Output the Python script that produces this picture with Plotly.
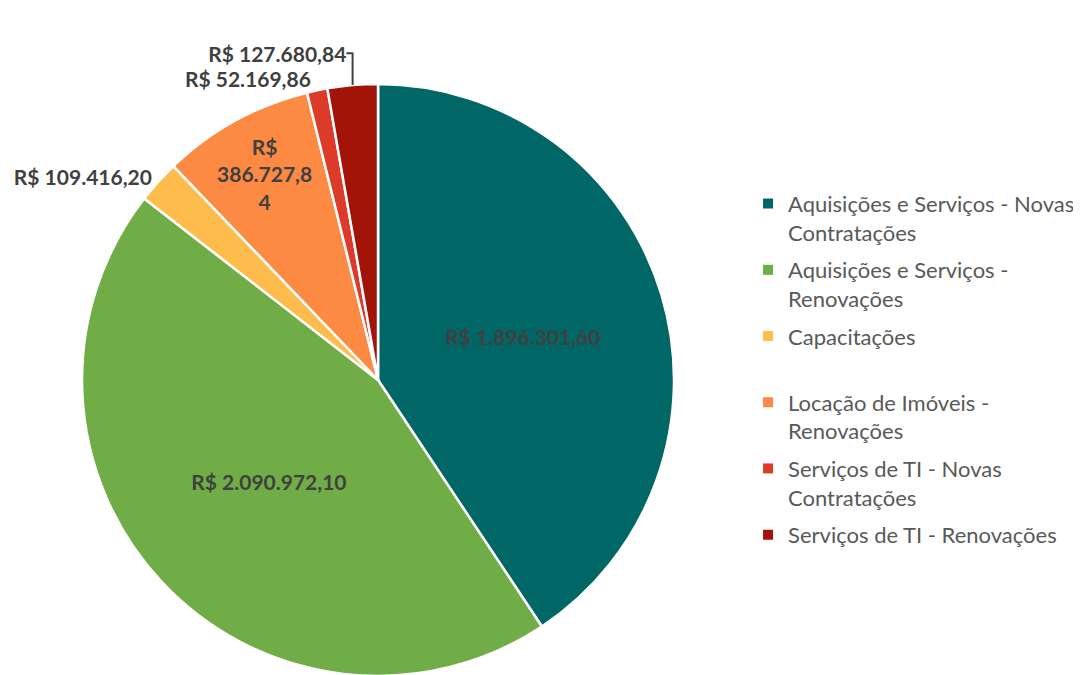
import plotly.graph_objects as go

categories = [
    "Aquisições e Serviços - Novas<br>Contratações",
    "Aquisições e Serviços -<br>Renovações",
    "Capacitações<br> ",
    "Locação de Imóveis -<br>Renovações",
    "Serviços de TI - Novas<br>Contratações",
    "Serviços de TI - Renovações",
]
values = [1896301.60, 2090972.10, 109416.20, 386727.84, 52169.86, 127680.84]
value_labels = [
    "R$ 1.896.301,60",
    "R$ 2.090.972,10",
    "R$ 109.416,20",
    "R$<br>386.727,8<br>4",
    "R$ 52.169,86",
    "R$ 127.680,84",
]
colors = ["#006666", "#70AD47", "#FDBC4B", "#FD8A42", "#DD3B2A", "#A31408"]
positions = ["inside", "inside", "outside", "inside", "outside", "outside"]

fig = go.Figure()
fig.add_trace(
    go.Pie(
        labels=categories,
        values=values,
        text=value_labels,
        textinfo="text",
        textposition=positions,
        insidetextorientation="horizontal",
        sort=False,
        direction="clockwise",
        rotation=0,
        marker=dict(colors=colors, line=dict(color="white", width=2.5)),
        textfont=dict(family="Lato", size=21, color="#404040", weight="bold"),
        domain=dict(x=[0.0685, 0.6161], y=[0.0104, 0.8874]),
        hoverinfo="label+value",
        showlegend=False,
    )
)

# legend entries (one per category, same colours as the slices)
for i, (cat, col) in enumerate(zip(categories, colors)):
    fig.add_trace(
        go.Scatter(
            x=[None],
            y=[None],
            mode="markers",
            name=cat,
            legendgroup=f"g{i}",
            marker=dict(symbol="square", size=10, color=col),
            showlegend=True,
            hoverinfo="skip",
        )
    )

fig.update_layout(
    width=1081,
    height=675,
    margin=dict(l=0, r=0, t=0, b=0, autoexpand=False),
    paper_bgcolor="white",
    plot_bgcolor="white",
    uniformtext=dict(mode="show", minsize=21),
    xaxis=dict(visible=False),
    yaxis=dict(visible=False),
    legend=dict(
        x=0.6846,
        y=0.741,
        xanchor="left",
        yanchor="top",
        valign="top",
        font=dict(family="Lato", size=22, color="#595959"),
        itemwidth=30,
        tracegroupgap=6,
    ),
    showlegend=True,
)

fig.write_html("out.html")
